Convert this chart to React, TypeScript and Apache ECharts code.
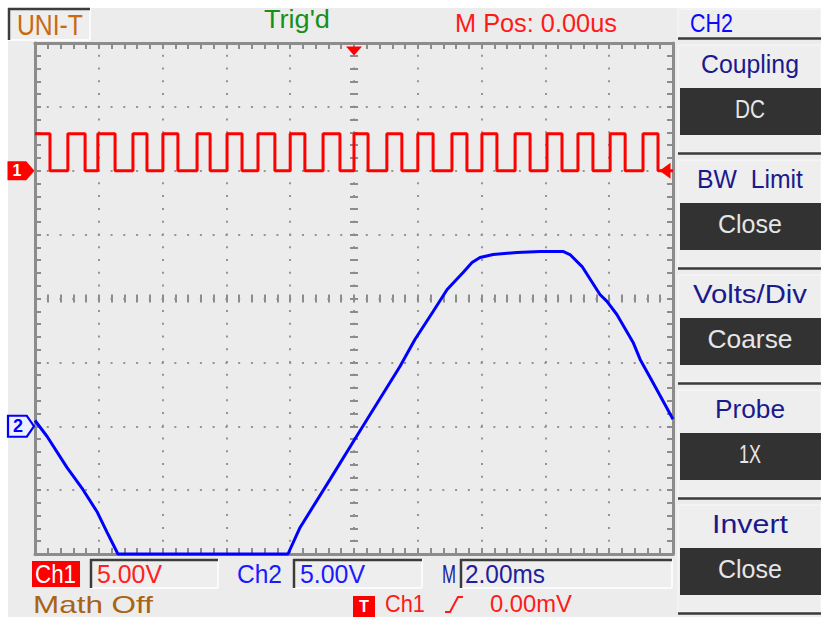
import React, { useEffect, useRef } from "react";
import * as echarts from "echarts";

// ---- scope settings (time in ms, screen in volts: 5 V/div, 2 ms/div) ----
const TIME_MIN = -10;
const TIME_MAX = 10;
const TIME_DIV = 2;
const VOLT_MIN = -20;
const VOLT_MAX = 20;
const VOLT_DIV = 5;
const CH1_POS = 10; // ch1 ground marker position (screen volts)
const CH2_POS = -10; // ch2 ground marker position (screen volts)
const TRIG_POS = 0; // ms
const TRIG_LEVEL = 0; // V on ch1

// ---- Ch1 square wave (volts relative to ch1 ground) ----
const CH1_HIGH = 2.9;
const CH1_LOW = 0;
const ch1Rises = [-8.97, -8.03, -6.93, -5.99, -4.92, -3.98, -3.01, -2.0, -0.97, 0.0, 1.03, 2.0, 3.07, 4.01, 5.05, 6.05, 7.02, 8.03, 9.06];
const ch1Falls = [-9.53, -8.43, -7.49, -6.49, -5.52, -4.51, -3.51, -2.48, -1.54, -0.44, 0.44, 1.5, 2.48, 3.54, 4.48, 5.52, 6.52, 7.49, 8.5, 9.53];

// ---- Ch2 waveform (volts relative to ch2 ground, clipped at screen edge) ----
const ch2Times = [-10.0, -9.62, -9.0, -8.5, -8.06, -7.74, -7.4, -2.07, -1.69, -0.75, 0.0, 1.44, 1.91, 2.48, 2.92, 3.42, 3.7, 3.95, 4.36, 5.11, 5.83, 6.55, 6.77, 7.15, 7.71, 7.93, 8.24, 8.75, 8.97, 9.37, 9.97, 10.0];
const ch2Volts = [0.45, -0.8, -3.22, -4.95, -6.67, -8.31, -10, -10, -7.92, -4.16, -1.11, 4.68, 6.79, 8.98, 10.7, 12.03, 12.82, 13.21, 13.44, 13.6, 13.68, 13.68, 13.44, 12.5, 10.31, 9.77, 8.75, 6.56, 5.23, 3.43, 0.69, 0.55];

// ---- texts ----
const menuLabels = ["Coupling", "BW  Limit", "Volts/Div", "Probe", "Invert"];
const menuValues = ["DC", "Close", "Coarse", "1X", "Close"];
const menuLabelWidths = [98, 106, 114, 70, 76];
const menuValueWidths = [30, 64, 85, 22, 64];

const FONT = '"Liberation Sans", Arial, sans-serif';

export default function App() {
  const ref = useRef<HTMLDivElement>(null);
  useEffect(() => {
    const chart = echarts.init(ref.current!, null, { renderer: "svg" });
    const ctx = document.createElement("canvas").getContext("2d")!;

    const fitText = (text: string, left: number, right: number, base: number, color: string, size: number, weight = "normal") => {
      ctx.font = `${weight} ${size}px ${FONT}`;
      const w = ctx.measureText(text).width || 1;
      return {
        type: "text",
        x: left,
        y: base - 0.347 * size,
        scaleX: (right - left) / w,
        z: 20,
        style: {
          text,
          fill: color,
          font: `${weight} ${size}px ${FONT}`,
          textAlign: "left",
          textVerticalAlign: "middle",
          align: "left",
          verticalAlign: "middle",
        },
      };
    };
    const line = (x1: number, y1: number, x2: number, y2: number, color: string, w: number) => ({
      type: "line",
      z: 15,
      shape: { x1, y1, x2, y2 },
      style: { stroke: color, lineWidth: w },
    });
    const sunken = (x: number, y: number, w: number, h: number) => [
      { type: "rect", z: 10, shape: { x, y, width: w, height: h }, style: { fill: "#eeeeee" } },
      line(x, y + h, x + w, y + h, "#fbfbfb", 2),
      line(x + w, y, x + w, y + h, "#fbfbfb", 2),
      line(x, y + 1, x + w, y + 1, "#3c3c3c", 2.5),
      line(x + 1, y, x + 1, y + h, "#3c3c3c", 2.5),
    ];

    // build ch1 step trace
    const events = [
      ...ch1Rises.map((t) => ({ t, v: CH1_HIGH })),
      ...ch1Falls.map((t) => ({ t, v: CH1_LOW })),
    ].sort((a, b) => a.t - b.t);
    let cur = CH1_HIGH;
    const ch1Data: number[][] = [[TIME_MIN, CH1_POS + cur]];
    events.forEach((e) => {
      ch1Data.push([e.t, CH1_POS + cur]);
      ch1Data.push([e.t, CH1_POS + e.v]);
      cur = e.v;
    });
    ch1Data.push([TIME_MAX, CH1_POS + cur]);

    const ch2Data = ch2Times.map((t, i) => [t, CH2_POS + ch2Volts[i]]);

    const GRID = "#8c8c8c";
    const DOT = "#959595";
    const tick = (inside: boolean, len: number) => ({
      axisTick: { show: true, inside, length: len, lineStyle: { color: GRID, width: 2 } },
      minorTick: { show: true, splitNumber: 5, length: len, lineStyle: { color: GRID, width: 2 } },
    });
    const xBase = { type: "value", min: TIME_MIN, max: TIME_MAX, interval: TIME_DIV, axisLabel: { show: false }, splitLine: { show: false } };
    const yBase = { type: "value", min: VOLT_MIN, max: VOLT_MAX, interval: VOLT_DIV, axisLabel: { show: false }, splitLine: { show: false } };
    const dotted = { show: true, lineStyle: { color: DOT, width: 2, type: [2, 10.76], dashOffset: 1 } };
    const border = { show: true, onZero: false, lineStyle: { color: GRID, width: 3 } };
    const noLine = { show: false, onZero: false };

    const graphic: any[] = [
      { type: "rect", z: 1, shape: { x: 0, y: 0, width: 821, height: 8 }, style: { fill: "#ffffff" } },
      { type: "rect", z: 1, shape: { x: 0, y: 0, width: 8, height: 617 }, style: { fill: "#ffffff" } },
      // top bar
      ...sunken(8, 8, 82, 32),
      fitText("UNI-T", 17, 83, 35, "#c86a10", 30),
      fitText("Trig'd", 264, 330, 28, "#16901b", 25),
      fitText("M Pos: 0.00us", 455, 617, 32, "#ff1a1a", 26),
      // right panel header
      { type: "rect", z: 10, shape: { x: 678, y: 9, width: 143, height: 29 }, style: { fill: "#eeeeee", stroke: "#f9f9f9", lineWidth: 1 } },
      line(678, 38.5, 821, 38.5, "#3a3a3a", 2.5),
      fitText("CH2", 690, 733, 32, "#0a0aff", 26),
      // bottom row
      { type: "rect", z: 10, shape: { x: 32, y: 561, width: 48, height: 26 }, style: { fill: "#ff0000" } },
      fitText("Ch1", 35, 76, 583, "#ffffff", 26),
      ...sunken(90, 559, 128, 29),
      fitText("5.00V", 97, 162, 583, "#ff2020", 26),
      fitText("Ch2", 237, 282, 583, "#1a1aff", 26),
      ...sunken(293, 559, 129, 29),
      fitText("5.00V", 300, 365, 583, "#1a1aff", 26),
      fitText("M", 442, 456, 583, "#20209a", 26),
      ...sunken(460, 559, 212, 29),
      fitText("2.00ms", 465, 545, 583, "#20209a", 26),
      fitText("Math Off", 33, 153, 613, "#a86414", 24),
      { type: "rect", z: 10, shape: { x: 353, y: 596, width: 22, height: 21 }, style: { fill: "#ff0000" } },
      fitText("T", 359, 369, 612, "#ffffff", 17, "bold"),
      fitText("Ch1", 385, 425, 612, "#ff1a1a", 23),
      {
        type: "polyline",
        z: 15,
        shape: { points: [[445, 612], [450, 612], [458, 597], [463, 597]] },
        style: { stroke: "#ff1a1a", lineWidth: 2, fill: "none" },
      },
      fitText("0.00mV", 490, 572, 612, "#ff1a1a", 23),
    ];

    menuLabels.forEach((lab, i) => {
      const top = 45 + 115 * i;
      graphic.push({ type: "rect", z: 10, shape: { x: 678, y: top, width: 143, height: 107 }, style: { fill: "#eeeeee", stroke: "#f9f9f9", lineWidth: 1 } });
      graphic.push({ type: "rect", z: 11, shape: { x: 680, y: top + 43, width: 141, height: 47 }, style: { fill: "#323232" } });
      graphic.push(line(678, top + 108.5, 821, top + 108.5, "#3a3a3a", 2.5));
      const lw = menuLabelWidths[i];
      graphic.push(fitText(lab, 750 - lw / 2, 750 + lw / 2, 73 + 115 * i, "#1a1a8c", 26));
      const vw = menuValueWidths[i];
      graphic.push(fitText(menuValues[i], 750 - vw / 2, 750 + vw / 2, 118 + 115 * i, "#e6e6e6", 25));
    });

    const option: any = {
      animation: false,
      backgroundColor: "#ececec",
      grid: { left: 35, top: 43, right: 148, bottom: 63, containLabel: false },
      xAxis: [
        { ...xBase, position: "bottom", axisLine: border, ...tick(true, 6), splitLine: dotted },
        { ...xBase, position: "top", axisLine: border, ...tick(true, 6) },
        { ...xBase, position: "bottom", offset: -255.5, axisLine: noLine, ...tick(true, 4) },
        { ...xBase, position: "bottom", offset: -255.5, axisLine: noLine, ...tick(false, 4) },
      ],
      yAxis: [
        { ...yBase, position: "left", axisLine: border, ...tick(true, 6), splitLine: dotted },
        { ...yBase, position: "right", axisLine: border, ...tick(true, 6) },
        { ...yBase, position: "left", offset: -319, axisLine: noLine, ...tick(true, 4) },
        { ...yBase, position: "left", offset: -319, axisLine: noLine, ...tick(false, 4) },
      ],
      graphic,
      series: [
        {
          name: "CH2",
          type: "line",
          xAxisIndex: 0,
          yAxisIndex: 0,
          data: ch2Data,
          showSymbol: false,
          clip: false,
          lineStyle: { color: "#0000ff", width: 3 },
          z: 5,
          markPoint: {
            silent: true,
            data: [
              {
                coord: [TIME_MIN, CH2_POS],
                symbol: "path://M0,0 L18,0 L25,10 L18,20 L0,20 Z",
                symbolSize: [26, 21],
                symbolOffset: [-14, 0],
                itemStyle: { color: "#eef0ff", borderColor: "#0000ff", borderWidth: 2 },
                label: { show: true, formatter: "2", color: "#0000ff", fontSize: 18, fontWeight: "bold", fontFamily: FONT, offset: [-3, 0] },
              },
            ],
          },
        },
        {
          name: "CH1",
          type: "line",
          xAxisIndex: 0,
          yAxisIndex: 0,
          data: ch1Data,
          showSymbol: false,
          clip: false,
          lineStyle: { color: "#ff0000", width: 3 },
          z: 6,
          markPoint: {
            silent: true,
            data: [
              {
                coord: [TIME_MIN, CH1_POS],
                symbol: "path://M0,0 L18,0 L26,9 L18,18 L0,18 Z",
                symbolSize: [27, 19],
                symbolOffset: [-14, 0],
                itemStyle: { color: "#ff0000" },
                label: { show: true, formatter: "1", color: "#ffffff", fontSize: 16, fontWeight: "bold", fontFamily: FONT, offset: [-4, 0] },
              },
              {
                coord: [TRIG_POS, VOLT_MAX],
                symbol: "path://M0,0 L12,0 L6,8 Z",
                symbolSize: [16, 9],
                symbolOffset: [0, 8],
                itemStyle: { color: "#ff0000" },
                label: { show: false },
              },
              {
                coord: [TIME_MAX, CH1_POS + TRIG_LEVEL],
                symbol: "path://M10,0 L10,18 L0,9 Z",
                symbolSize: [11, 16],
                symbolOffset: [-8, 0],
                itemStyle: { color: "#ff0000" },
                label: { show: false },
              },
            ],
          },
        },
      ],
    };
    chart.setOption(option);
    return () => chart.dispose();
  }, []);
  return <div ref={ref} style={{ position: "absolute", left: 0, top: 0, width: 821, height: 617 }} />;
}
